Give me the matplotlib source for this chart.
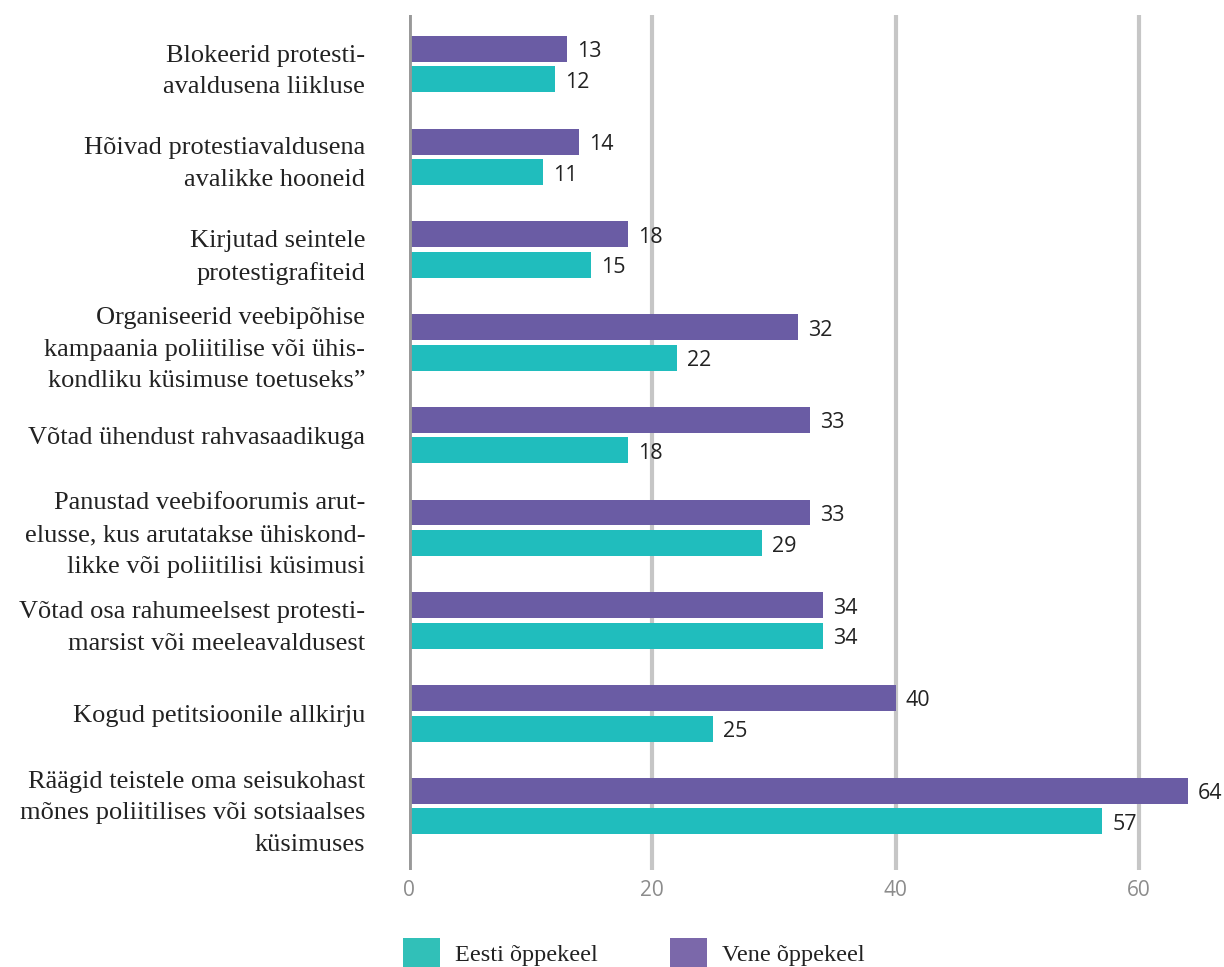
import matplotlib
matplotlib.use("Agg")
import matplotlib.pyplot as plt
from matplotlib.patches import Patch
from matplotlib.transforms import offset_copy

categories = [
    "Blokeerid protesti-\navaldusena liikluse",
    "Hõivad protestiavaldusena\navalikke hooneid",
    "Kirjutad seintele\nprotestigrafiteid",
    "Organiseerid veebipõhise\nkampaania poliitilise või ühis-\nkondliku küsimuse toetuseks”",
    "Võtad ühendust rahvasaadikuga",
    "Panustad veebifoorumis arut-\nelusse, kus arutatakse ühiskond-\nlikke või poliitilisi küsimusi",
    "Võtad osa rahumeelsest protesti-\nmarsist või meeleavaldusest",
    "Kogud petitsioonile allkirju",
    "Räägid teistele oma seisukohast\nmõnes poliitilises või sotsiaalses\nküsimuses",
]
vene = [13, 14, 18, 32, 33, 33, 34, 40, 64]
eesti = [12, 11, 15, 22, 18, 29, 34, 25, 57]
series_names = ["Eesti õppekeel", "Vene õppekeel"]
xticks = [0, 20, 40, 60]

c_vene = "#6a5ca4"
c_eesti = "#20bdbd"
c_leg_vene = "#7b68aa"
c_leg_eesti = "#31c0b8"

fig = plt.figure(figsize=(12.24, 9.67), dpi=100)
ax = fig.add_axes([409/1224, 1-870/967, 1-409/1224, (870-15)/967])

h = 0.28
off = 0.165
ys = list(range(len(categories)))
ax.barh([y - off for y in ys], vene, height=h, color=c_vene, zorder=3)
ax.barh([y + off for y in ys], eesti, height=h, color=c_eesti, zorder=3)

vfont = dict(family="Open Sans", fontsize=15.5, color="#222222", va="center", ha="left")
tr = offset_copy(ax.transData, fig=fig, x=10, y=-3, units="dots")
for y, v in zip(ys, vene):
    ax.text(v, y - off, str(v), transform=tr, **vfont)
for y, v in zip(ys, eesti):
    ax.text(v, y + off, str(v), transform=tr, **vfont)

ax.set_xlim(0, 67)
ax.set_ylim(8.69, -0.53)
for x in xticks[1:]:
    ax.axvline(x, color="#c6c6c6", lw=3, zorder=1)
ax.axvline(0, color="#999999", lw=3.5, zorder=4)

for s in ax.spines.values():
    s.set_visible(False)
ax.set_xticks(xticks)
ax.set_xticklabels([str(t) for t in xticks], family="Open Sans", fontsize=15, color="#8c8c8c")
ax.tick_params(axis="x", length=0, pad=7)
ax.set_yticks(ys)
ax.set_yticklabels(categories, family="Liberation Serif", fontsize=19, color="#222222")
for t in ax.get_yticklabels():
    t.set_linespacing(1.57)
ax.tick_params(axis="y", length=0, pad=31.5)

handles = [Patch(facecolor=c_leg_eesti, edgecolor="none"),
           Patch(facecolor=c_leg_vene, edgecolor="none")]
leg = fig.legend(handles, series_names, loc="center left",
                 bbox_to_anchor=(393/1224, 1-953/967), ncol=2, frameon=False,
                 borderaxespad=0, borderpad=0.4,
                 prop=dict(family="Liberation Serif", size=17.5),
                 handlelength=1.52, handleheight=1.52, handletextpad=0.62, columnspacing=3.0)
for t in leg.get_texts():
    t.set_color("#222222")

fig.savefig("out.png", dpi=100)
